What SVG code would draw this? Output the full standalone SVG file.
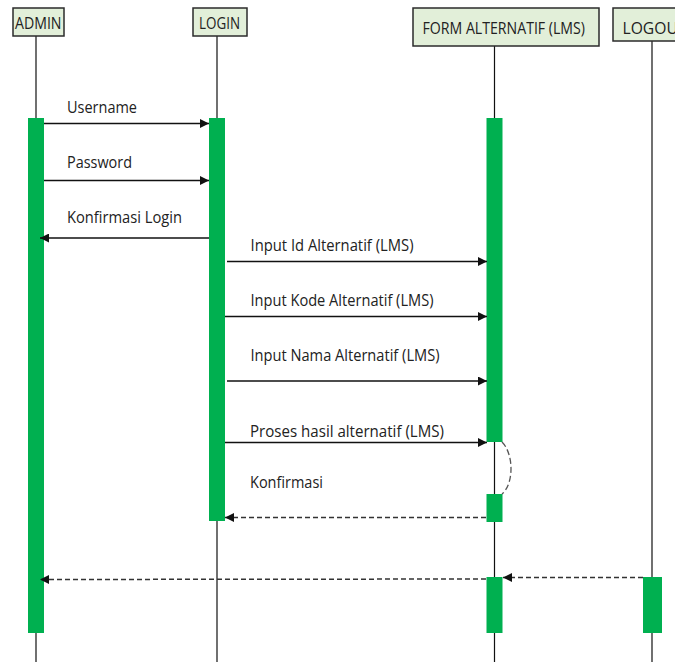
<svg xmlns="http://www.w3.org/2000/svg" width="675" height="662" viewBox="0 0 675 662">
  <style>
    .head { fill: #e2efd9; stroke: #2b2b2b; stroke-width: 1.5; }
    .htxt { font-family: "Open Sans", "Liberation Sans", sans-serif; font-size: 16.5px; fill: #222; }
    .life { stroke: #111; stroke-width: 1.2; fill: none; }
    .bar { fill: #00b050; }
    .msg { stroke: #111; stroke-width: 1.3; fill: none; marker-end: url(#solid); }
    .ret { stroke: #333; stroke-width: 1.5; stroke-dasharray: 5 3; fill: none; marker-end: url(#solid); }
    .self { stroke: #555; stroke-width: 1.3; stroke-dasharray: 6 3; fill: none; }
    .lbl { font-family: "Open Sans", "Liberation Sans", sans-serif; font-size: 15.5px; fill: #222; }
  </style>
  <defs>
    <marker id="solid" viewBox="0 0 10 10" refX="10" refY="5" markerWidth="10" markerHeight="9" markerUnits="userSpaceOnUse" orient="auto">
      <path d="M0,0 L10,5 L0,10 Z" fill="#111"/>
    </marker>
  </defs>
  <rect width="675" height="662" fill="#ffffff"/>

  <!-- participants -->
  <g id="admin">
    <line class="life" x1="36" y1="36" x2="36" y2="662"/>
    <rect class="head" x="13" y="8" width="51" height="28"/>
    <text class="htxt" x="15" y="29" textLength="46.5" lengthAdjust="spacingAndGlyphs">ADMIN</text>
    <rect class="bar" x="28" y="118" width="16" height="515"/>
  </g>
  <g id="login">
    <line class="life" x1="217" y1="36" x2="217" y2="662"/>
    <rect class="head" x="193" y="8" width="54" height="28"/>
    <text class="htxt" x="199" y="29" textLength="41" lengthAdjust="spacingAndGlyphs">LOGIN</text>
    <rect class="bar" x="209" y="118" width="16" height="403"/>
  </g>
  <g id="form-alternatif">
    <line class="life" x1="494.5" y1="46" x2="494.5" y2="662"/>
    <rect class="head" x="413" y="8" width="186" height="38"/>
    <text class="htxt" x="422.5" y="34" textLength="162.5" lengthAdjust="spacingAndGlyphs">FORM ALTERNATIF (LMS)</text>
    <rect class="bar" x="486.5" y="118" width="16" height="324"/>
    <rect class="bar" x="486.5" y="494" width="16" height="28"/>
    <rect class="bar" x="486.5" y="577" width="16" height="56"/>
  </g>
  <g id="logout">
    <line class="life" x1="652" y1="41" x2="652" y2="662"/>
    <rect class="head" x="613" y="8" width="80" height="33"/>
    <text class="htxt" x="622.5" y="34" textLength="64" lengthAdjust="spacingAndGlyphs">LOGOUT</text>
    <rect class="bar" x="643" y="577" width="19" height="56"/>
  </g>

  <!-- messages -->
  <g id="connectors">
    <line class="msg" x1="44" y1="123.5" x2="209" y2="123.5"/>
    <line class="msg" x1="44" y1="180.5" x2="209" y2="180.5"/>
    <line class="msg" x1="209" y1="238" x2="40" y2="238"/>
    <line class="msg" x1="227" y1="261.5" x2="487" y2="261.5"/>
    <line class="msg" x1="225" y1="316.5" x2="487" y2="316.5"/>
    <line class="msg" x1="227" y1="381" x2="487" y2="381"/>
    <line class="msg" x1="225" y1="442.5" x2="487" y2="442.5"/>
    <path class="self" d="M502,442 C514,454 514,484 502,494"/>
    <line class="ret" x1="486" y1="517.5" x2="225" y2="517.5"/>
    <line class="ret" x1="643" y1="577.5" x2="503" y2="577.5"/>
    <line class="ret" x1="486" y1="579" x2="40" y2="579.5"/>
  </g>

  <!-- message labels -->
  <g id="labels">
    <text class="lbl" x="67" y="113" textLength="70" lengthAdjust="spacingAndGlyphs">Username</text>
    <text class="lbl" x="67" y="168" textLength="65" lengthAdjust="spacingAndGlyphs">Password</text>
    <text class="lbl" x="67" y="223" textLength="115" lengthAdjust="spacingAndGlyphs">Konfirmasi Login</text>
    <text class="lbl" x="250.5" y="250.5" textLength="163" lengthAdjust="spacingAndGlyphs">Input Id Alternatif (LMS)</text>
    <text class="lbl" x="250.5" y="306" textLength="183" lengthAdjust="spacingAndGlyphs">Input Kode Alternatif (LMS)</text>
    <text class="lbl" x="250.5" y="360.5" textLength="189" lengthAdjust="spacingAndGlyphs">Input Nama Alternatif (LMS)</text>
    <text class="lbl" x="250" y="436.5" textLength="194" lengthAdjust="spacingAndGlyphs">Proses hasil alternatif (LMS)</text>
    <text class="lbl" x="250" y="488" textLength="73" lengthAdjust="spacingAndGlyphs">Konfirmasi</text>
  </g>
</svg>
